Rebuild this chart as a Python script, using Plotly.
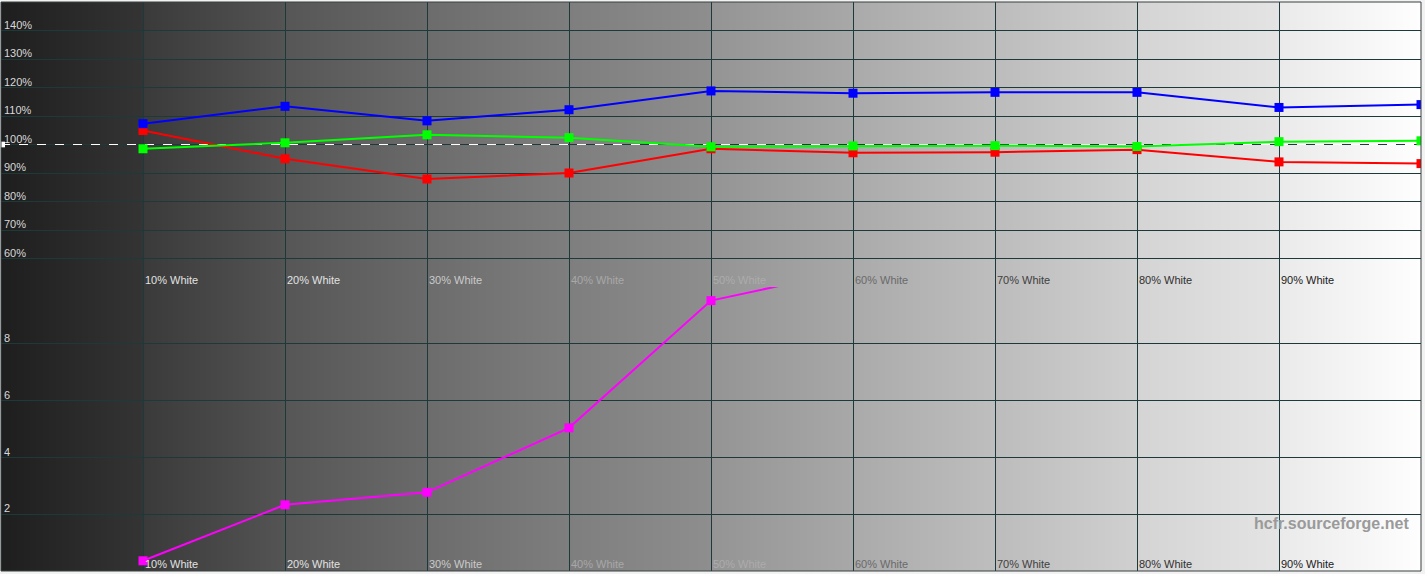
import plotly.graph_objects as go

# ---- data ----
levels = [10, 20, 30, 40, 50, 60, 70, 80, 90, 100]
red = [104.9, 95.0, 87.9, 90.0, 98.5, 97.1, 97.3, 98.2, 93.9, 93.3]
green = [98.5, 100.6, 103.4, 102.4, 99.2, 99.5, 99.6, 99.3, 101.0, 101.3]
blue = [107.3, 113.4, 108.3, 112.2, 118.8, 118.0, 118.3, 118.3, 113.0, 114.0]
delta_levels = [10, 20, 30, 40, 50, 60]
delta_e = [0.36, 2.33, 2.77, 5.04, 9.52, 10.6]
reference_x = [0, 100]
reference_y = [100, 100]

x_tick_vals = [10, 20, 30, 40, 50, 60, 70, 80, 90]
x_tick_names = ["10% White", "20% White", "30% White", "40% White", "50% White",
                "60% White", "70% White", "80% White", "90% White"]
x_tick_colors = ["#e2e2e2", "#e2e2e2", "#cacaca", "#a8a8a8", "#acacac",
                 "#6a6a6a", "#404040", "#303030", "#202020"]
pct_tick_vals = [60, 70, 80, 90, 100, 110, 120, 130, 140]
pct_tick_text = ["60%", "70%", "80%", "90%", "100%", "110%", "120%", "130%", "140%"]
de_tick_vals = [2, 4, 6, 8]
de_tick_text = ["2", "4", "6", "8"]

# background grey ramp per column (left value, right value)
bg_left = [30, 58, 86, 108, 126, 148, 170, 188, 212, 234]
bg_right = [52, 84, 106, 126, 142, 168, 190, 208, 228, 254]

# ---- geometry ----
W, H = 1425, 574
px0, px1 = 1, 1421
py_top, py_mid, py_bot = 2, 287, 571
xd = [px0 / W, px1 / W]
yd_top = [1 - py_mid / H, 1 - py_top / H]
yd_bot = [1 - py_bot / H, 1 - py_mid / H]
yd_all = [yd_bot[0], yd_top[1]]

N = 1420
bg_x = [(i + 0.5) * 100 / N for i in range(N)]
bg_z = []
for xv in bg_x:
    c = min(int(xv // 10), 9)
    t = (xv - 10 * c) / 10
    bg_z.append(bg_left[c] + (bg_right[c] - bg_left[c]) * t)

fig = go.Figure()
fig.add_trace(go.Heatmap(x=bg_x, y=[0.5], z=[bg_z], xaxis="x", yaxis="y",
                         colorscale=[[0, "rgb(0,0,0)"], [1, "rgb(255,255,255)"]],
                         zmin=0, zmax=255, showscale=False, hoverinfo="skip"))

# 100% reference dashed line
fig.add_trace(go.Scatter(x=reference_x, y=reference_y, mode="lines", xaxis="x2", yaxis="y2",
                         line=dict(color="white", width=1, dash="dash"), hoverinfo="skip"))

mk = dict(symbol="square", size=9)
fig.add_trace(go.Scatter(x=levels, y=red, mode="lines+markers", xaxis="x2", yaxis="y2",
                         line=dict(color="#ff0000", width=2), marker=dict(color="#ff0000", **mk)))
fig.add_trace(go.Scatter(x=levels, y=green, mode="lines+markers", xaxis="x2", yaxis="y2",
                         line=dict(color="#00ff00", width=2), marker=dict(color="#00ff00", **mk)))
fig.add_trace(go.Scatter(x=levels, y=blue, mode="lines+markers", xaxis="x2", yaxis="y2",
                         line=dict(color="#0000ff", width=2), marker=dict(color="#0000ff", **mk)))
fig.add_trace(go.Scatter(x=delta_levels, y=delta_e, mode="lines+markers", xaxis="x3", yaxis="y3",
                         line=dict(color="#ff00ff", width=2), marker=dict(color="#ff00ff", **mk)))

grid_col = "#1c3a3a"
tick_font = dict(family="Liberation Sans, Arial, sans-serif", size=11, color="#d8d8d8")
xtext = ['<span style="color:%s">%s</span>' % (c, t) for c, t in zip(x_tick_colors, x_tick_names)]

xcommon = dict(domain=xd, range=[0, 100], tickmode="array", tickvals=x_tick_vals, ticktext=xtext,
               showgrid=True, gridcolor=grid_col, gridwidth=1, zeroline=False, showline=False,
               ticks="", ticklabelposition="inside right", ticklabelstandoff=-5, ticklabelshift=2,
               tickfont=tick_font, fixedrange=True)
ycommon = dict(tickmode="array", showgrid=True, gridcolor=grid_col, gridwidth=1, zeroline=False,
               showline=False, ticks="", ticklabelposition="inside top", ticklabelshift=2,
               tickfont=tick_font, fixedrange=True)

fig.update_layout(
    width=W, height=H, margin=dict(l=0, r=0, t=0, b=0),
    paper_bgcolor="#f2f2f2", plot_bgcolor="rgba(0,0,0,0)", showlegend=False,
    xaxis=dict(domain=xd, range=[0, 100], visible=False, fixedrange=True),
    yaxis=dict(domain=yd_all, range=[0, 1], visible=False, fixedrange=True),
    xaxis2=dict(anchor="y2", **xcommon),
    yaxis2=dict(domain=yd_top, anchor="x2", range=[50, 150],
                tickvals=pct_tick_vals, ticktext=pct_tick_text, **ycommon),
    xaxis3=dict(anchor="y3", **xcommon),
    yaxis3=dict(domain=yd_bot, anchor="x3", range=[0, 10],
                tickvals=de_tick_vals, ticktext=de_tick_text, **ycommon),
)

fig.add_shape(type="rect", xref="paper", yref="paper", x0=0, x1=0.0035,
              y0=yd_top[0] + (99 - 50) / 100 * (yd_top[1] - yd_top[0]),
              y1=yd_top[0] + (101 - 50) / 100 * (yd_top[1] - yd_top[0]),
              line=dict(width=0), fillcolor="white", layer="above")
# frame
fig.add_shape(type="rect", xref="paper", yref="paper", x0=xd[0], x1=xd[1], y0=yd_all[0], y1=yd_all[1],
              line=dict(color="#3a4040", width=1), fillcolor="rgba(0,0,0,0)", layer="above")

fig.add_annotation(text="<b>hcfr.sourceforge.net</b>", xref="paper", yref="paper",
                   x=1411 / W, y=1 - 523 / H, xanchor="right", yanchor="middle", showarrow=False,
                   font=dict(family="Liberation Sans, Arial, sans-serif", size=16, color="#9a9a9a"))

fig.write_html("out.html", config={"displayModeBar": False},
               post_script="document.body.style.margin='0';document.body.style.overflow='hidden';")
